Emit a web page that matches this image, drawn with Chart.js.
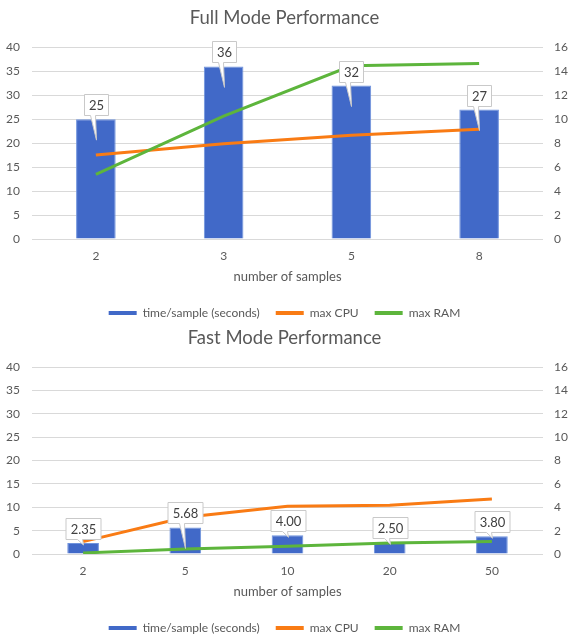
<!DOCTYPE html>
<html><head><meta charset="utf-8">
<script src="https://cdn.jsdelivr.net/npm/chart.js@4.4.0/dist/chart.umd.min.js"></script>
<style>
html,body{margin:0;padding:0;overflow:hidden;background:#fff;width:569px;height:637px}
.box{position:absolute;left:0;width:569px}
#b1{top:0;height:329px}
#b2{top:320px;height:324px}
</style></head><body>
<div class="box" id="b1"><canvas id="c1"></canvas></div>
<div class="box" id="b2"><canvas id="c2"></canvas></div>
<script>
// ---- data ----
const fullCategories = ['2', '3', '5', '8'];
const fullTime = [25, 36, 32, 27];
const fullCpu = [7.0, 7.95, 8.65, 9.15];
const fullRam = [5.4, 10.25, 14.45, 14.65];
const fullLabels = ['25', '36', '32', '27'];

const fastCategories = ['2', '5', '10', '20', '50'];
const fastTime = [2.35, 5.68, 4.00, 2.50, 3.80];
const fastCpu = [1.06, 3.14, 4.09, 4.17, 4.71];
const fastRam = [0.09, 0.43, 0.66, 0.94, 1.06];
const fastLabels = ['2.35', '5.68', '4.00', '2.50', '3.80'];

const seriesNames = ['time/sample (seconds)', 'max CPU', 'max RAM'];
const leftMax = 40, leftStep = 5;
const rightMax = 16, rightStep = 2;

// ---- style ----
const FONT = 'Lato';
const TXT = '#595959';
const BLUE = '#4169C8', BLUE_EDGE = '#6F93DD';
const ORANGE = '#F97B14', GREEN = '#5DB53C';

const callouts = {
  id: 'callouts',
  afterDatasetsDraw(chart, args, opts) {
    const meta = chart.getDatasetMeta(0);
    const ctx = chart.ctx;
    ctx.save();
    ctx.font = '13px ' + FONT;
    meta.data.forEach((bar, i) => {
      const txt = opts.labels[i];
      const w = Math.round(ctx.measureText(txt).width + 9);
      const h = 21;
      const cx = Math.round(bar.x) + 0.5;
      const bottom = Math.round(bar.y - 4) + 0.5;
      const top = bottom - h;
      const tipY = bar.y + opts.drop[i];
      ctx.beginPath();
      ctx.moveTo(cx - w / 2, top);
      ctx.lineTo(cx + w / 2, top);
      ctx.lineTo(cx + w / 2, bottom);
      ctx.lineTo(cx - 1, bottom);
      ctx.lineTo(cx, tipY);
      ctx.lineTo(cx - 6, bottom);
      ctx.lineTo(cx - w / 2, bottom);
      ctx.closePath();
      ctx.fillStyle = '#ffffff';
      ctx.fill();
      ctx.strokeStyle = '#c9c9c9';
      ctx.lineWidth = 1;
      ctx.stroke();
      ctx.fillStyle = '#404040';
      ctx.textAlign = 'center';
      ctx.textBaseline = 'middle';
      ctx.fillText(txt, cx, top + h / 2 + 0.5);
    });
    ctx.restore();
  }
};

function makeChart(id, title, cats, times, cpu, ram, labels, drop) {
  return new Chart(document.getElementById(id), {
    type: 'bar',
    data: {
      labels: cats,
      datasets: [
        { type: 'bar', label: seriesNames[0], data: times, yAxisID: 'y',
          backgroundColor: BLUE, borderColor: BLUE_EDGE, borderWidth: 1,
          categoryPercentage: 1, barPercentage: 0.31, order: 3 },
        { type: 'line', label: seriesNames[1], data: cpu, yAxisID: 'y1',
          borderColor: ORANGE, backgroundColor: ORANGE, borderWidth: 3,
          pointRadius: 0, tension: 0, order: 2 },
        { type: 'line', label: seriesNames[2], data: ram, yAxisID: 'y1',
          borderColor: GREEN, backgroundColor: GREEN, borderWidth: 3,
          pointRadius: 0, tension: 0, order: 1 }
      ]
    },
    options: {
      responsive: true,
      maintainAspectRatio: false,
      animation: false,
      layout: { padding: 0 },
      plugins: {
        title: { display: true, text: title, color: TXT,
          font: { family: FONT, size: 18.5, weight: 'normal' },
          padding: { top: 7, bottom: 18 } },
        legend: { position: 'bottom',
          labels: { color: TXT, font: { family: FONT, size: 12 },
            boxWidth: 28, boxHeight: 4, padding: 16,
            sort: (a, b) => a.datasetIndex - b.datasetIndex,
            generateLabels: (chart) => chart.data.datasets.map((d, i) => ({
              text: d.label, fillStyle: d.backgroundColor, strokeStyle: d.backgroundColor,
              lineWidth: 0, hidden: false, datasetIndex: i, fontColor: TXT
            }))
          } },
        tooltip: { enabled: false },
        callouts: { labels: labels, drop: drop }
      },
      scales: {
        x: {
          grid: { display: false, drawTicks: false }, border: { display: false },
          ticks: { color: TXT, font: { family: FONT, size: 12 }, padding: 10 },
          title: { display: true, text: 'number of samples', color: TXT,
            font: { family: FONT, size: 13 }, padding: { top: 0, bottom: 6 } },
          afterFit: (s) => { s.height = 52; }
        },
        y: {
          position: 'left', min: 0, max: leftMax,
          ticks: { stepSize: leftStep, color: TXT, font: { family: FONT, size: 12 }, padding: 12 },
          grid: { color: '#d9d9d9', drawTicks: false, lineWidth: 1 },
          border: { display: false },
          afterFit: (s) => { s.width = 32; }
        },
        y1: {
          position: 'right', min: 0, max: rightMax,
          ticks: { stepSize: rightStep, color: TXT, font: { family: FONT, size: 12 }, padding: 11 },
          grid: { display: false, drawTicks: false },
          border: { display: false },
          afterFit: (s) => { s.width = 26; }
        }
      }
    },
    plugins: [callouts]
  });
}

makeChart('c1', 'Full Mode Performance', fullCategories, fullTime, fullCpu, fullRam,
  fullLabels, [21, 21, 21, 21]);
makeChart('c2', 'Fast Mode Performance', fastCategories, fastTime, fastCpu, fastRam,
  fastLabels, [2, 21, 2, 2, 2]);
</script>
</body></html>
